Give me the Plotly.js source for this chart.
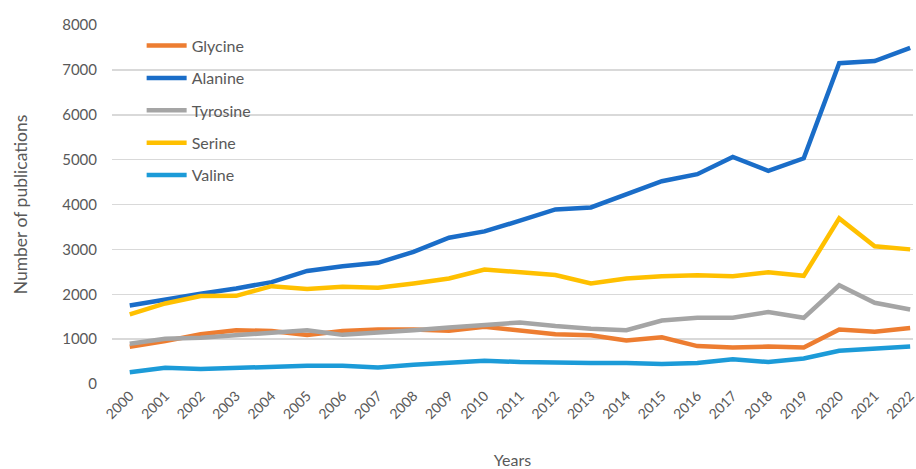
<!DOCTYPE html>
<html>
<head>
<meta charset="utf-8">
<script src="https://cdn.plot.ly/plotly-3.0.1.min.js"></script>
<style>
  html, body { margin: 0; padding: 0; background: #fff; }
  #chart { width: 916px; height: 469px; }
</style>
</head>
<body>
<div id="chart"></div>
<script>
// Publication counts per amino acid, 2000–2022
const years = ['2000','2001','2002','2003','2004','2005','2006','2007','2008','2009','2010',
               '2011','2012','2013','2014','2015','2016','2017','2018','2019','2020','2021','2022'];

const glycine  = [830, 955, 1110, 1200, 1180, 1090, 1180, 1215, 1215, 1185, 1275,
                  1180, 1110, 1085, 970, 1040, 845, 815, 835, 815, 1215, 1165, 1250];
const alanine  = [1750, 1890, 2010, 2130, 2270, 2520, 2625, 2700, 2945, 3260, 3400,
                  3640, 3890, 3935, 4240, 4520, 4675, 5060, 4750, 5030, 7150, 7195, 7490];
const tyrosine = [895, 1010, 1030, 1085, 1140, 1200, 1095, 1140, 1200, 1260, 1310,
                  1370, 1290, 1230, 1200, 1415, 1475, 1475, 1605, 1475, 2200, 1810, 1660];
const serine   = [1550, 1795, 1960, 1965, 2180, 2115, 2165, 2145, 2240, 2350, 2550,
                  2490, 2430, 2240, 2350, 2400, 2425, 2400, 2490, 2410, 3690, 3070, 3000];
const valine   = [260, 360, 335, 360, 405, 405, 405, 370, 430, 475, 520,
                  490, 468, 468, 468, 445, 468, 550, 490, 570, 740, 785, 835];

const seriesNames  = ['Glycine', 'Alanine', 'Tyrosine', 'Serine', 'Valine'];
const seriesValues = [glycine, alanine, tyrosine, serine, valine];
const seriesColors = ['#ED7D31', '#1A6DC8', '#A5A5A5', '#FFC000', '#1C9BD8'];

const FONT = 'Lato, "Open Sans", "DejaVu Sans", sans-serif';
const GREY = '#595959';

const traces = seriesNames.map((name, i) => ({
  type: 'scatter',
  mode: 'lines',
  name: name,
  legendgroup: name,
  x: years,
  y: seriesValues[i],
  line: { color: seriesColors[i], width: 4.5 },
  hoverinfo: 'x+y+name'
}));

const layout = {
  width: 916,
  height: 469,
  margin: { l: 112, r: 3, t: 25, b: 85 },
  paper_bgcolor: '#ffffff',
  plot_bgcolor: '#ffffff',
  font: { family: FONT, color: GREY, size: 15 },
  showlegend: true,
  legend: {
    x: 0.037, y: 0.99, xanchor: 'left', yanchor: 'top',
    bgcolor: 'rgba(0,0,0,0)',
    font: { family: FONT, size: 16, color: GREY },
    traceorder: 'grouped',
    tracegroupgap: 8.6,
    itemwidth: 40
  },
  xaxis: {
    type: 'category',
    range: [-0.5, 22.08],
    showgrid: false,
    zeroline: false,
    showline: false,
    ticks: '',
    tickangle: -45,
    tickfont: { family: FONT, size: 14, color: GREY },
    title: { text: 'Years', font: { family: FONT, size: 16, color: GREY }, standoff: 33 }
  },
  yaxis: {
    range: [0, 8000],
    tickvals: [0, 1000, 2000, 3000, 4000, 5000, 6000, 7000, 8000],
    showgrid: true,
    gridcolor: '#D9D9D9',
    gridwidth: 1.5,
    zeroline: false,
    showline: false,
    ticks: '',
    ticklabelstandoff: 14,
    tickfont: { family: FONT, size: 15, color: GREY },
    title: { text: 'Number of publications', font: { family: FONT, size: 17.5, color: GREY }, standoff: 30 }
  }
};

Plotly.newPlot('chart', traces, layout, { staticPlot: true, displayModeBar: false });
</script>
</body>
</html>
